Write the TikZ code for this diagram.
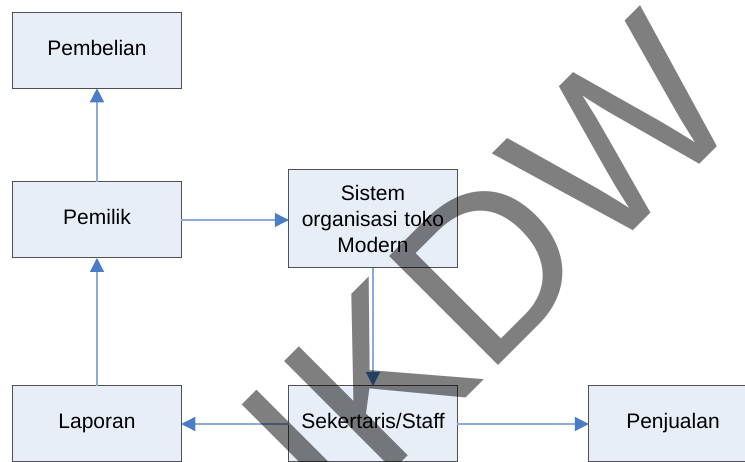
\documentclass[tikz,border=0pt]{standalone}
\usepackage{fontspec}
\setmainfont{Liberation Sans}
\usetikzlibrary{arrows.meta}
\definecolor{boxfill}{RGB}{232,238,248}
\definecolor{boxline}{RGB}{80,80,80}
\definecolor{linkblue}{RGB}{142,169,219}
\definecolor{tipblue}{RGB}{74,125,198}
\tikzset{
  box/.style={draw=boxline, line width=1pt, fill=boxfill, minimum width=168.5pt,
    minimum height=76pt, inner sep=0pt, outer sep=0pt,
    font=\fontsize{21}{25.7}\selectfont, text height=15pt, text depth=5pt},
  bigbox/.style={box, minimum height=98pt, text height=, text depth=,
    text width=165pt, align=center},
  link/.style={draw=linkblue, line width=1.3pt,
    -{Triangle[length=14pt,width=14pt,color=tipblue,fill=tipblue]}},
  watermark/.style={font=\fontsize{224}{224}\selectfont, text=black, text opacity=0.5,
    rotate=45, anchor=base west, inner sep=0pt, outer sep=0pt}
}
\begin{document}
\begin{tikzpicture}[x=1pt,y=-1pt]
\clip (0,0) rectangle (745,462);
\fill[white] (0,0) rectangle (745,462);
\node[box] (pembelian) at (97,50.3) {Pembelian};
\node[box] (pemilik) at (97,220) {Pemilik};
\node[bigbox] (sistem) at (373,219) {Sistem\\organisasi toko\\Modern};
\node[box] (laporan) at (97,424) {Laporan};
\node[box] (sekertaris) at (373,424) {Sekertaris/Staff};
\node[box] (penjualan) at (673,424) {Penjualan};
\draw[link] (pemilik.north) -- (pembelian.south);
\draw[link] (laporan.north) -- (pemilik.south);
\draw[link] (pemilik.east) -- (pemilik.east -| sistem.west);
\draw[link] (sistem.south) -- (sekertaris.north);
\draw[link] (sekertaris.west) -- (laporan.east);
\draw[link] (sekertaris.east) -- (penjualan.west);
\node[watermark] (wm) at (336,528) {IKDW};
\end{tikzpicture}
\end{document}
